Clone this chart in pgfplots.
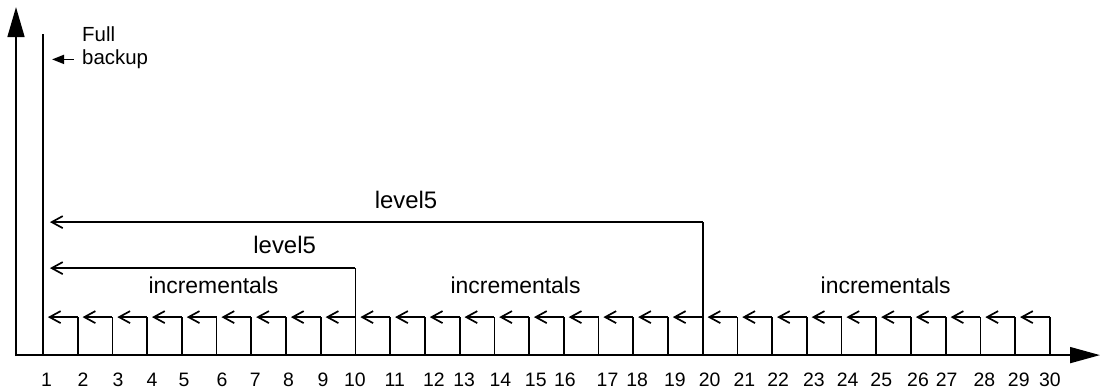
\documentclass[border=0pt]{standalone}
\usepackage{fontspec}
\setmainfont{Liberation Sans}
\usepackage{pgfplots}
\pgfplotsset{compat=1.18}
\usetikzlibrary{arrows.meta}

% horizontal "<-" arrows: start point (x,y) and displacement (u,v)
\pgfplotstableread{
x  y   u     v
2  38  -0.86 0
3  38  -0.86 0
4  38  -0.86 0
5  38  -0.86 0
6  38  -0.86 0
7  38  -0.86 0
8  38  -0.86 0
9  38  -0.86 0
10 38  -0.86 0
11 38  -0.86 0
12 38  -0.86 0
13 38  -0.86 0
14 38  -0.86 0
15 38  -0.86 0
16 38  -0.86 0
17 38  -0.86 0
18 38  -0.86 0
19 38  -0.86 0
20 38  -0.86 0
21 38  -0.86 0
22 38  -0.86 0
23 38  -0.86 0
24 38  -0.86 0
25 38  -0.86 0
26 38  -0.86 0
27 38  -0.86 0
28 38  -0.86 0
29 38  -0.86 0
30 38  -0.86 0
10 87  -8.80 0
20 133 -18.80 0
}\arrowtable

% vertical lines: foot (x,0) and height v
\pgfplotstableread{
x  y u v
1  0 0 321
2  0 0 38
3  0 0 38
4  0 0 38
5  0 0 38
6  0 0 38
7  0 0 38
8  0 0 38
9  0 0 38
10 0 0 87
11 0 0 38
12 0 0 38
13 0 0 38
14 0 0 38
15 0 0 38
16 0 0 38
17 0 0 38
18 0 0 38
19 0 0 38
20 0 0 133
21 0 0 38
22 0 0 38
23 0 0 38
24 0 0 38
25 0 0 38
26 0 0 38
27 0 0 38
28 0 0 38
29 0 0 38
30 0 0 38
}\linetable

\begin{document}
\begin{tikzpicture}
\begin{axis}[
  scale only axis,
  width=1102bp, height=389bp,
  xmin=-0.2385, xmax=31.501, ymin=-34, ymax=355,
  axis line style={draw=none},
  major tick length=0pt,
  ytick=\empty,
  xtick={1.098,2.150,3.158,4.138,5.060,6.156,7.115,8.075,9.063,9.986,11.132,12.259,13.127,14.173,15.193,16.029,17.259,18.115,19.202,20.202,21.202,22.173,23.202,24.173,25.144,26.202,27.029,28.115,29.104,30.0},
  xticklabels={1,2,3,4,5,6,7,8,9,10,11,12,13,14,15,16,17,18,19,20,21,22,23,24,25,26,27,28,29,30},
  xticklabel style={font=\fontsize{19.5}{22}\selectfont, anchor=center, yshift=9bp},
  clip=false,
]
% vertical lines
\addplot[black, line width=1.7bp, quiver={u=\thisrow{u}, v=\thisrow{v}}, -] table[x=x, y=y] {\linetable};
% horizontal arrows
\addplot[black, line width=1.7bp, quiver={u=\thisrow{u}, v=\thisrow{v}},
  -{Straight Barb[length=11bp, width=12bp]}] table[x=x, y=y] {\arrowtable};
% axes
\addplot[black, line width=1.7bp, -{Triangle[length=30bp, width=17bp]}] coordinates {(0.2224,-1) (0.2224,348)};
\addplot[black, line width=1.7bp, -{Triangle[length=30bp, width=16bp]}] coordinates {(0.2224,0) (31.443,0)};
% full backup pointer
\addplot[black, line width=1.7bp, -{Triangle[length=12bp, width=9bp]}] coordinates {(1.89,295.7) (1.26,295.7)};

\node[anchor=north west, inner sep=0pt, align=left, font=\fontsize{20.5}{23}\selectfont] at (axis cs:2.123,329) {Full\\backup};
\node[anchor=base, inner sep=0pt, font=\fontsize{24}{28}\selectfont] at (axis cs:7.96,102) {level5};
\node[anchor=base, inner sep=0pt, font=\fontsize{24}{28}\selectfont] at (axis cs:11.455,147) {level5};
\node[anchor=base, inner sep=0pt, font=\fontsize{23}{27}\selectfont] at (axis cs:5.91,62) {incrementals};
\node[anchor=base, inner sep=0pt, font=\fontsize{23}{27}\selectfont] at (axis cs:14.61,62) {incrementals};
\node[anchor=base, inner sep=0pt, font=\fontsize{23}{27}\selectfont] at (axis cs:25.27,62) {incrementals};
\end{axis}
\end{tikzpicture}
\end{document}
